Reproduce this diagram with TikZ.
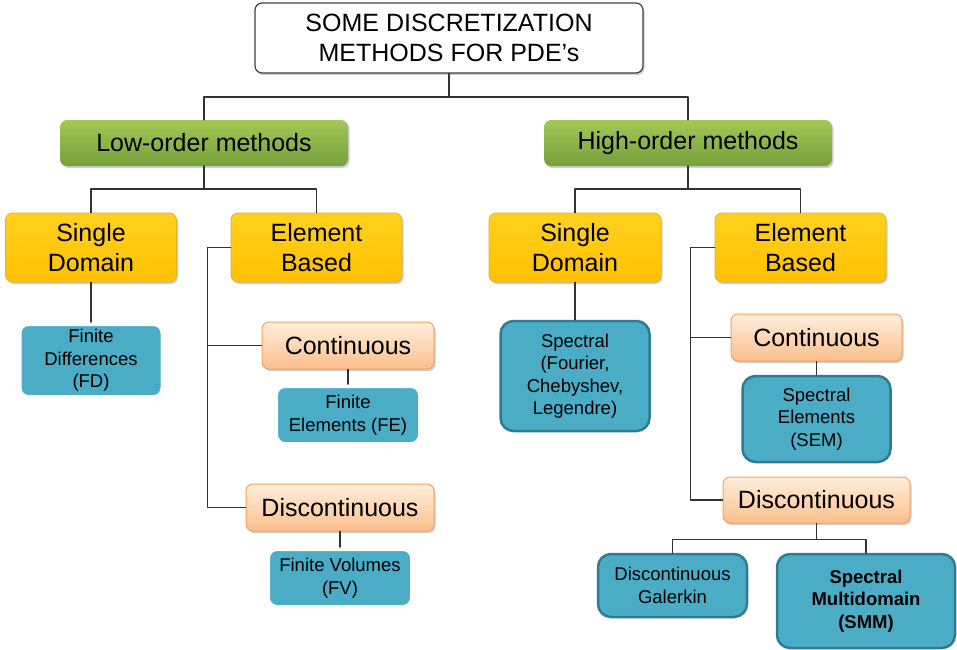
\documentclass[tikz,border=0pt]{standalone}
\usepackage{fontspec}
\setmainfont{Liberation Sans}
\usetikzlibrary{shadows}
\definecolor{grtop}{HTML}{A3C856}
\definecolor{grbot}{HTML}{77A03C}
\definecolor{yetop}{HTML}{FFD21F}
\definecolor{yebot}{HTML}{FFC000}
\definecolor{yedraw}{HTML}{E8B020}
\definecolor{ortop}{HTML}{FFEEDD}
\definecolor{orbot}{HTML}{FBBF8C}
\definecolor{ordraw}{HTML}{F6A35F}
\definecolor{blfill}{HTML}{4BACC6}
\definecolor{bldraw}{HTML}{2F7C90}
\begin{document}
\begin{tikzpicture}[x=1pt, y=-1pt, line join=round, line cap=round,
	box/.style={rectangle, rounded corners=7, align=center, inner sep=0pt, font=\fontsize{25}{30}\selectfont},
	shade/.style={drop shadow={shadow xshift=1.5pt, shadow yshift=-2pt, opacity=.35, fill=black!55}},
	titlebox/.style={box, draw=black!75, fill=white, line width=1.2, shade},
	greenbox/.style={box, top color=grtop, bottom color=grbot, shade},
	yellowbox/.style={box, top color=yetop, bottom color=yebot, draw=yedraw, line width=.8, shade},
	orangebox/.style={box, top color=ortop, bottom color=orbot, draw=ordraw, line width=1, shade},
	lowblue/.style={box, fill=blfill, draw=white, line width=4, rounded corners=9, font=\fontsize{18.5}{22.5}\selectfont,
		drop shadow={shadow xshift=1pt, shadow yshift=-1.5pt, opacity=.3, fill=black!50}},
	highblue/.style={box, fill=blfill, draw=bldraw, line width=2.5, rounded corners=13, font=\fontsize{18.5}{22.5}\selectfont},
	conn/.style={draw=black!80, line width=1.5}]
	\useasboundingbox (0,0) rectangle (957,649);
	% title
	\node[titlebox, minimum width=388, minimum height=70] (title) at (449,38) {SOME DISCRETIZATION\\METHODS FOR PDE’s};
	% low order branch
	\node[greenbox, minimum width=288, minimum height=46] (lo) at (204,143) {Low-order methods};
	\node[yellowbox, minimum width=171, minimum height=69] (lsd) at (91,247.5) {Single\\Domain};
	\node[yellowbox, minimum width=171, minimum height=69] (leb) at (316.5,247.5) {Element\\Based};
	\node[lowblue, minimum width=143, minimum height=73] (lfd) at (91,360.5) {Finite\\Differences\\(FD)};
	\node[orangebox, minimum width=172, minimum height=47] (lco) at (348,345.5) {Continuous};
	\node[lowblue, minimum width=144, minimum height=58] (lfe) at (348,415) {Finite\\Elements (FE)};
	\node[orangebox, minimum width=188, minimum height=47] (ldi) at (340,507.5) {Discontinuous};
	\node[lowblue, minimum width=144, minimum height=58] (lfv) at (340,578) {Finite Volumes\\(FV)};
	% high order branch
	\node[greenbox, minimum width=288, minimum height=46] (hi) at (688,143) {High-order methods};
	\node[yellowbox, minimum width=172, minimum height=69] (hsd) at (575,247.5) {Single\\Domain};
	\node[yellowbox, minimum width=171, minimum height=69] (heb) at (800.5,247.5) {Element\\Based};
	\node[highblue, minimum width=149, minimum height=110] (hsp) at (575,376) {Spectral\\(Fourier,\\Chebyshev,\\Legendre)};
	\node[orangebox, minimum width=171, minimum height=47] (hco) at (816.5,337.5) {Continuous};
	\node[highblue, minimum width=148, minimum height=86] (hse) at (816.5,419) {Spectral\\Elements\\(SEM)};
	\node[orangebox, minimum width=187, minimum height=46] (hdi) at (816.5,500) {Discontinuous};
	\node[highblue, minimum width=149, minimum height=63] (hdg) at (672.5,585.5) {Discontinuous\\Galerkin};
	\node[highblue, minimum width=178, minimum height=94, font=\fontsize{18.5}{22.5}\selectfont\bfseries] (hsm) at (866,601) {Spectral\\Multidomain\\(SMM)};
	% connectors
	\foreach \b in {lo,hi} \draw[conn] (title.south) -- ++(0,23.5) -| (\b.north);
	\foreach \b in {lsd,leb} \draw[conn] (lo.south) -- ++(0,23) -| (\b.north);
	\foreach \b in {hsd,heb} \draw[conn] (hi.south) -- ++(0,23) -| (\b.north);
	\foreach \b in {lco,ldi} \draw[conn] (leb.west) -- ++(-23,0) |- (\b.west);
	\foreach \b in {hco,hdi} \draw[conn] (heb.west) -- ++(-24,0) |- (\b.west);
	\foreach \b in {hdg,hsm} \draw[conn] (hdi.south) -- ++(0,16) -| (\b.north);
	\draw[conn] (lsd.south) -- (lfd.north);
	\draw[conn] (lco.south) -- (lfe.north);
	\draw[conn] (ldi.south) -- (lfv.north);
	\draw[conn] (hsd.south) -- (hsp.north);
	\draw[conn] (hco.south) -- (hse.north);
\end{tikzpicture}
\end{document}
